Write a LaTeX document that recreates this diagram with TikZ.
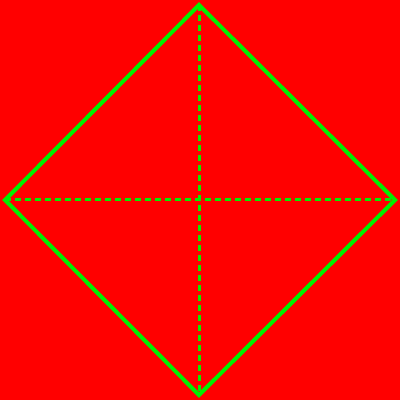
\documentclass[tikz,border=0pt]{standalone}
\definecolor{bgred}{RGB}{255,0,0}
\definecolor{lgreen}{RGB}{0,240,0}
\tikzset{
  outline/.style={draw=lgreen, line width=4pt, line join=miter},
  axisline/.style={draw=lgreen, line width=3pt, dash pattern=on 6pt off 4pt}
}
\begin{document}
\begin{tikzpicture}[x=1pt,y=1pt]
\fill[bgred] (0,0) rectangle (400,400);
\useasboundingbox (0,0) rectangle (400,400);
\coordinate (T) at (199,395);
\coordinate (R) at (395,200);
\coordinate (B) at (199,5);
\coordinate (L) at (5,200);
\draw[axisline] (T) -- (B);
\draw[axisline] (L) -- (R);
\draw[outline] (T) -- (R) -- (B) -- (L) -- cycle;
\end{tikzpicture}
\end{document}
